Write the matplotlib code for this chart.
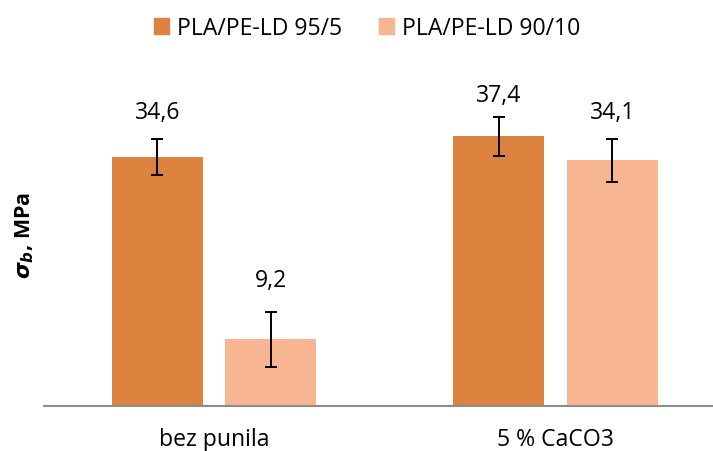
import matplotlib
matplotlib.use("Agg")
import matplotlib.pyplot as plt
import numpy as np

categories = ["bez punila", "5 % CaCO3"]
series_names = ["PLA/PE-LD 95/5", "PLA/PE-LD 90/10"]
values_95_5 = [34.6, 37.4]
values_90_10 = [9.2, 34.1]
err_95_5 = [2.5, 2.7]
err_90_10 = [3.8, 3.0]
labels_95_5 = ["34,6", "37,4"]
labels_90_10 = ["9,2", "34,1"]

plt.rcParams['font.family'] = ['Open Sans', 'DejaVu Sans']
plt.rcParams['mathtext.fontset'] = 'dejavusans'

FS = 16.6
colors = ["#DB833F", "#F8B592"]
W, H = 713, 452
fig = plt.figure(figsize=(W / 100, H / 100), dpi=100)
ax = fig.add_axes([43.5 / W, (H - 406.7) / H, (726 - 43.5) / W, 346.7 / H])
ax.set_ylim(0, 346.7 / 7.2)
ax.set_xlim(-0.5, 1.5)

x = np.arange(len(categories))
bw = 0.2665
off = 0.1665
series = [(values_95_5, err_95_5, labels_95_5, -off, [19.2, 16.1]),
          (values_90_10, err_90_10, labels_90_10, off, [22.8, 19.0])]
for i, (vals, errs, labs, o, lofs) in enumerate(series):
    ax.bar(x + o, vals, width=bw, color=colors[i], label=series_names[i], zorder=2)
    ax.errorbar(x + o, vals, yerr=errs, fmt='none', ecolor='black', elinewidth=1.4,
                capsize=4.3, capthick=1.4, zorder=3)
    for xi, v, e, lab, lo in zip(x + o, vals, errs, labs, lofs):
        ax.annotate(lab, (xi, v + e), xytext=(0, lo), textcoords='offset points',
                    ha='center', va='center', fontsize=FS, color='#000000')

for s in ['top', 'right', 'left']:
    ax.spines[s].set_visible(False)
ax.spines['bottom'].set_color('#8C8C8C')
ax.spines['bottom'].set_linewidth(1.5)
ax.set_yticks([])
ax.set_xticks(x)
ax.set_xticklabels(categories, fontsize=FS)
ax.tick_params(axis='x', length=0, pad=15)

fig.text(25 / W, 1 - 235 / H, r'$\mathbfit{\sigma_b}$, MPa', rotation=90,
         ha='center', va='center', fontsize=15.5, fontweight='bold')

handles = [plt.Rectangle((0, 0), 1, 1, color=c) for c in colors]
fig.legend(handles, series_names, loc='center', bbox_to_anchor=(367 / W, 1 - 29 / H),
           ncol=2, frameon=False, fontsize=FS, handlelength=0.65, handleheight=0.65,
           handletextpad=0.35, columnspacing=1.6)

fig.savefig("out.png", dpi=100)
